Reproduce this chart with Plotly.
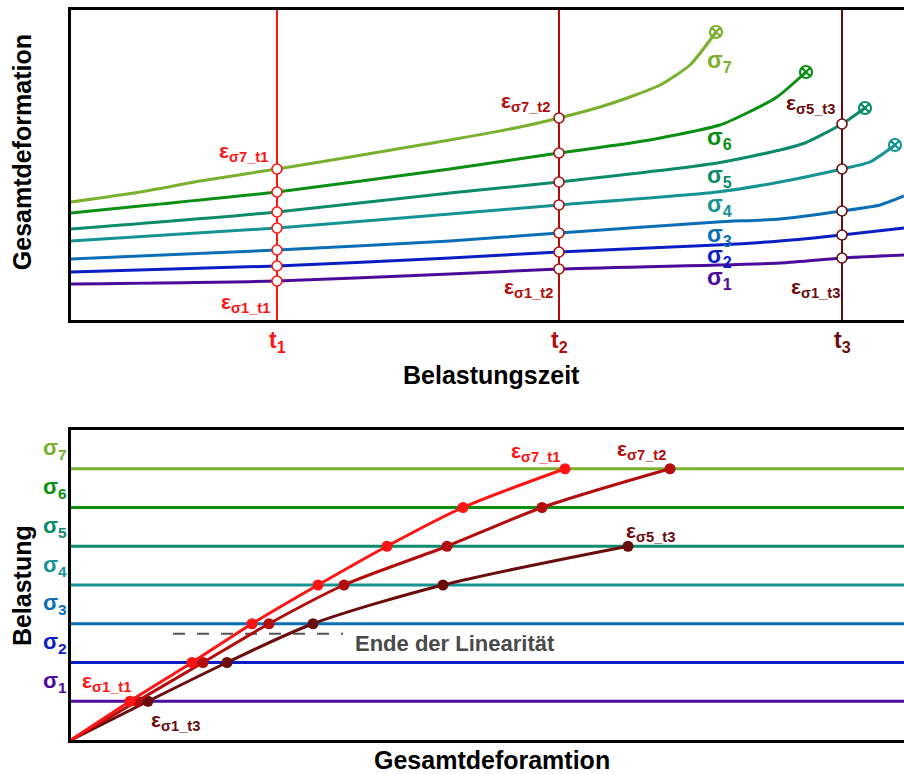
import plotly.graph_objects as go

# ---------------- data ----------------
# top chart: deformation vs. loading time, one curve per load level
t_names = ["t1", "t2", "t3"]
t_pos = [206, 488, 771]
t_colors = ["#ff1414", "#b30c0c", "#6a0c0c"]

sig_names = ["σ1", "σ2", "σ3", "σ4", "σ5", "σ6", "σ7"]
sig_colors = ["#4b0c9c", "#0a1ec4", "#0a6eb6", "#159393", "#0b8a6c", "#0a8f12", "#79b12e"]

s1_t = [0, 206, 379, 488, 709, 771, 833]
s1_e = [36, 39, 46, 51, 57, 62, 65]
s2_t = [0, 206, 379, 488, 646, 709, 771, 833]
s2_e = [48, 54, 62, 68, 75, 79, 85, 92]
s3_t = [0, 206, 379, 488, 646, 709, 771, 809, 833]
s3_e = [61, 70, 79, 87, 98, 101, 109, 115, 124]
s4_t = [0, 206, 379, 488, 646, 709, 771, 799, 824]
s4_e = [79, 92, 106, 115, 128, 138, 151, 158, 175]
s5_t = [0, 206, 379, 488, 646, 709, 734, 771, 794]
s5_e = [91, 108, 127, 138, 157, 170, 177, 196, 212]
s6_t = [0, 79, 206, 379, 488, 579, 649, 676, 706, 735]
s6_e = [107, 115, 128, 151, 167, 180, 195, 207, 223, 248]
s7_t = [0, 69, 129, 206, 279, 379, 449, 488, 529, 559, 589, 619, 645]
s7_e = [118, 128, 139, 151, 163, 180, 193, 202, 213, 223, 235, 255, 288]

curves_t = [s1_t, s2_t, s3_t, s4_t, s5_t, s6_t, s7_t]
curves_e = [s1_e, s2_e, s3_e, s4_e, s5_e, s6_e, s7_e]
failed = [False, False, False, True, True, True, True]

# bottom chart: isochrones (load vs. total deformation)
sig_levels = [0, 1, 2, 3, 4, 5, 6, 7]
iso_t1 = [0, 59, 121, 181, 247, 316, 392, 494]
iso_t2 = [0, 66, 132, 198, 273, 376, 471, 599]
iso_t3 = [0, 77, 156, 242, 372, 557]
linearity_end = 2.74
linearity_x = [102, 272]

fig = go.Figure()
FONT = "Liberation Sans, Arial, sans-serif"

# ---------------- top chart ----------------
for i in range(7):
    fig.add_trace(go.Scatter(
        x=curves_t[i], y=curves_e[i], mode="lines",
        line=dict(color=sig_colors[i], width=3, shape="spline", smoothing=0.6),
        xaxis="x", yaxis="y", showlegend=False, hoverinfo="skip"))
    if failed[i]:
        fig.add_trace(go.Scatter(
            x=[curves_t[i][-1]], y=[curves_e[i][-1]], mode="markers",
            marker=dict(symbol="circle-x-open", size=12, color=sig_colors[i],
                        line=dict(width=2.2, color=sig_colors[i])),
            xaxis="x", yaxis="y", showlegend=False, hoverinfo="skip"))

for j, tp in enumerate(t_pos):
    fig.add_shape(type="line", xref="x", yref="y domain", x0=tp, x1=tp, y0=0, y1=1,
                  line=dict(color=t_colors[j], width=2), layer="below")
    xs, ys = [], []
    for i in range(7):
        if tp in curves_t[i]:
            xs.append(tp)
            ys.append(curves_e[i][curves_t[i].index(tp)])
    fig.add_trace(go.Scatter(
        x=xs, y=ys, mode="markers",
        marker=dict(symbol="circle", size=10, color="white",
                    line=dict(width=1.6, color=t_colors[j])),
        xaxis="x", yaxis="y", showlegend=False, hoverinfo="skip"))
    fig.add_annotation(x=tp, y=(740 - 341) / 730, xref="x", yref="paper", showarrow=False,
                       text=f"<b>t<sub>{t_names[j][1:]}</sub></b>",
                       font=dict(size=23, color=t_colors[j], family=FONT),
                       xanchor="center", yanchor="middle")

top_eps = [
    ("σ7_t1", 199, 168, 0), ("σ1_t1", 201, 17, 0),
    ("σ7_t2", 481, 218, 1), ("σ1_t2", 484, 32, 1),
    ("σ5_t3", 766, 216, 2), ("σ1_t3", 771, 32, 2),
]
for lab, x, y, c in top_eps:
    fig.add_annotation(x=x, y=y, xref="x", yref="y", showarrow=False,
                       text=f"<b>ε<sub>{lab}</sub></b>",
                       font=dict(size=21, color=t_colors[c], family=FONT),
                       xanchor="right", yanchor="middle")

top_sig_y = [42, 64, 85, 115, 144, 182, 259]
for i in range(7):
    fig.add_annotation(x=634, y=top_sig_y[i], xref="x", yref="y", showarrow=False,
                       text=f"<b>σ<sub>{i+1}</sub></b>",
                       font=dict(size=23, color=sig_colors[i], family=FONT),
                       xanchor="left", yanchor="middle")

# ---------------- bottom chart ----------------
for k in range(1, 8):
    fig.add_shape(type="line", xref="x2 domain", yref="y2", x0=0, x1=1, y0=k, y1=k,
                  line=dict(color=sig_colors[k-1], width=3), layer="below")
    fig.add_annotation(x=-0.0025, y=k + 0.5, xref="paper", yref="y2", showarrow=False,
                       text=f"<b>σ<sub>{k}</sub></b>",
                       font=dict(size=22, color=sig_colors[k-1], family=FONT),
                       xanchor="right", yanchor="middle")

fig.add_trace(go.Scatter(x=linearity_x, y=[linearity_end, linearity_end], mode="lines",
                         line=dict(color="#555555", width=2, dash="12px,12px"),
                         xaxis="x2", yaxis="y2", showlegend=False, hoverinfo="skip"))

for xs, col in [(iso_t3, t_colors[2]), (iso_t2, t_colors[1]), (iso_t1, t_colors[0])]:
    ys = sig_levels[:len(xs)]
    fig.add_trace(go.Scatter(x=xs, y=ys, mode="lines",
                             line=dict(color=col, width=3, shape="spline", smoothing=0.8),
                             xaxis="x2", yaxis="y2", showlegend=False, hoverinfo="skip"))
    fig.add_trace(go.Scatter(x=xs[1:], y=ys[1:], mode="markers",
                             marker=dict(size=11, color=col),
                             xaxis="x2", yaxis="y2", showlegend=False, hoverinfo="skip"))

bot_eps = [
    ("σ7_t1", 491, 7.43, 0, "right"), ("σ7_t2", 597, 7.48, 1, "right"),
    ("σ5_t3", 606, 5.37, 2, "right"), ("σ1_t1", 62, 1.5, 0, "right"),
    ("σ1_t3", 131, 0.49, 2, "right"),
]
for lab, x, y, c, anc in bot_eps:
    fig.add_annotation(x=x, y=y, xref="x2", yref="y2", showarrow=False,
                       text=f"<b>ε<sub>{lab}</sub></b>",
                       font=dict(size=21, color=t_colors[c], family=FONT),
                       xanchor=anc, yanchor="middle")

fig.add_annotation(x=282, y=2.5, xref="x2", yref="y2", showarrow=False,
                   text="<b>Ende der Linearität</b>",
                   font=dict(size=22, color="#4a4a4a", family=FONT),
                   xanchor="left", yanchor="middle")

# axis titles
titles = [
    ("Belastungszeit", 0.505, 0.50, 0),
    ("Gesamtdeforamtion", 0.505, -0.028, 0),
    ("Gesamtdeformation", -0.059, 0.805, -90),
    ("Belastung", -0.059, 0.212, -90),
]
for txt, x, y, ang in titles:
    fig.add_annotation(x=x, y=y, xref="paper", yref="paper", showarrow=False,
                       text=f"<b>{txt}</b>", textangle=ang,
                       font=dict(size=25, color="black", family=FONT),
                       xanchor="center", yanchor="middle")

axis_common = dict(showgrid=False, zeroline=False, showticklabels=False, ticks="",
                   showline=True, linecolor="black", linewidth=2.5)
top_dom = [(740 - 320) / 730, 1.0]
bot_dom = [0.0, (740 - 430) / 730]

fig.update_layout(
    width=904, height=774,
    margin=dict(l=71, r=0, t=10, b=34),
    paper_bgcolor="white", plot_bgcolor="white",
    font=dict(family=FONT),
    xaxis=dict(range=[0, 833], domain=[0, 1], anchor="y", mirror=True, **axis_common),
    yaxis=dict(range=[0, 310], domain=top_dom, anchor="x", **axis_common),
    xaxis2=dict(range=[0, 833], domain=[0, 1], anchor="y2", mirror=True, **axis_common),
    yaxis2=dict(range=[0, 8], domain=bot_dom, anchor="x2", **axis_common),
)

fig.write_html("out.html", config={"displayModeBar": False},
               post_script="document.body.style.margin='0';document.body.style.overflow='hidden';")
